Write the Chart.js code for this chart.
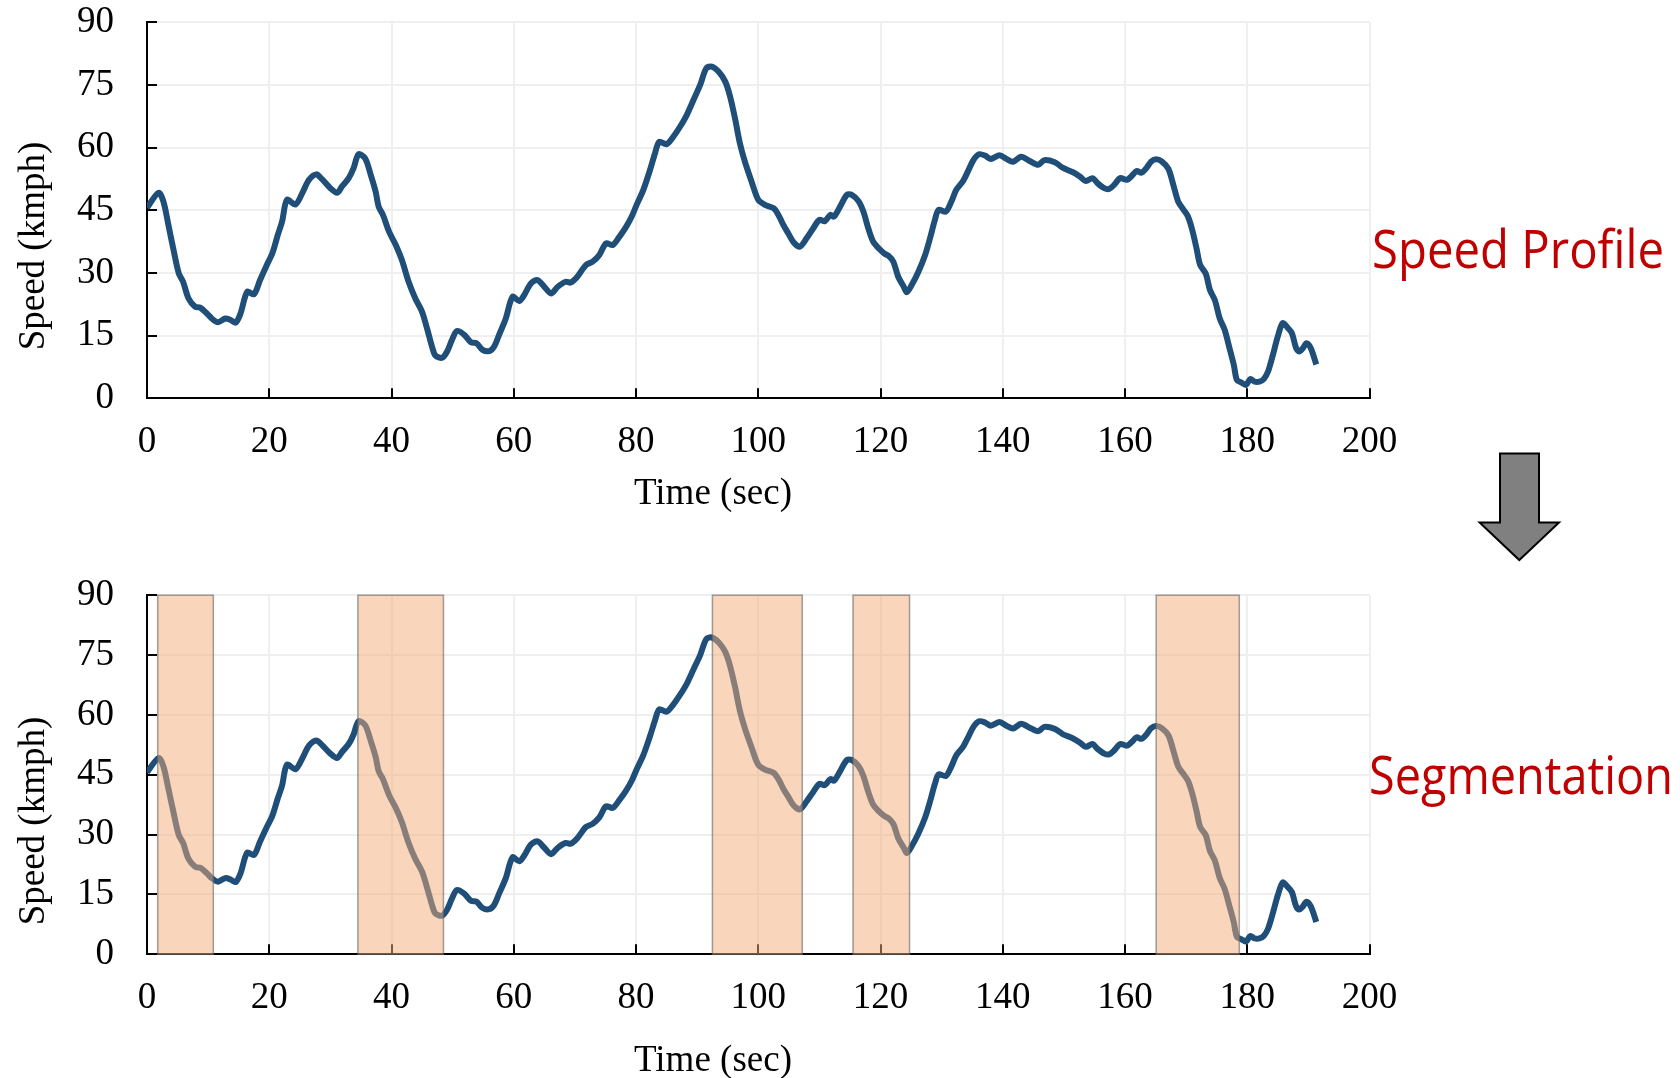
<!DOCTYPE html>
<html>
<head>
<meta charset="utf-8">
<title>Speed profile segmentation</title>
<script src="https://cdn.jsdelivr.net/npm/chart.js@4.4.1/dist/chart.umd.min.js"></script>
<style>
  html, body { margin: 0; padding: 0; background: #fff; overflow: hidden; }
  #page { position: relative; width: 1680px; height: 1078px; overflow: hidden; }
  canvas { position: absolute; left: 0; }
  #topChart { top: -40px; }
  #bottomChart { top: 540px; }
  svg { position: absolute; left: 0; top: 0; pointer-events: none; }
</style>
</head>
<body>
<div id="page">
  <canvas id="topChart" width="1420" height="580"></canvas>
  <canvas id="bottomChart" width="1420" height="538"></canvas>
  <svg width="1680" height="1078">
    <text x="1372" y="268" font-family="Open Sans" font-size="53" fill="#C00000" textLength="292" lengthAdjust="spacingAndGlyphs">Speed Profile</text>
    <text x="1369" y="793.5" font-family="Open Sans" font-size="53" fill="#C00000" textLength="304" lengthAdjust="spacingAndGlyphs">Segmentation</text>
    <polygon points="1500,453.5 1539,453.5 1539,522.5 1559,522.5 1519.3,560 1479.6,522.5 1500,522.5" fill="#808080" stroke="#000" stroke-width="2"/>
  </svg>
</div>
<script>
// time (s) and speed (km/h)
const timeSec = [
  0.0, 1.9, 2.7, 3.5, 4.4, 5.2, 5.9, 6.8, 7.9, 8.7, 9.8, 10.6, 11.6, 12.8, 13.6, 14.5, 15.3, 16.4, 17.5, 18.5,
  19.6, 20.5, 21.4, 22.1, 22.9, 24.3, 25.4, 26.5, 27.7, 28.6, 30.0, 31.1, 31.9, 33.0, 33.8, 34.6, 35.7, 36.6, 37.4, 37.9,
  38.6, 39.6, 40.7, 41.7, 42.8, 43.9, 45.0, 45.8, 46.7, 47.2, 48.3, 49.1, 49.9, 50.7, 51.9, 53.0, 53.9, 54.9, 56.0, 56.8,
  57.6, 58.7, 59.8, 60.9, 61.7, 62.8, 63.9, 65.0, 66.1, 67.2, 68.5, 69.3, 70.4, 71.8, 72.9, 74.0, 75.1, 76.2, 77.3, 78.4,
  79.3, 80.1, 81.2, 82.3, 83.1, 83.8, 85.0, 86.1, 87.2, 88.3, 89.4, 90.5, 91.5, 92.4, 93.5, 94.6, 95.4, 96.2, 97.0, 97.8,
  98.9, 100.0, 101.1, 102.5, 103.3, 104.1, 104.9, 105.8, 106.8, 107.9, 109.0, 110.0, 110.9, 111.8, 112.4, 113.4, 114.5, 115.3, 116.4, 117.2,
  118.0, 118.8, 119.7, 120.6, 121.3, 122.1, 122.9, 123.8, 124.3, 125.1, 126.2, 127.3, 128.1, 128.9, 129.5, 130.7, 131.6, 132.4, 133.5, 134.3,
  135.2, 136.1, 137.1, 138.0, 139.5, 140.6, 141.7, 143.0, 144.4, 145.8, 146.8, 148.5, 149.8, 151.5, 152.6, 153.6, 154.7, 155.5, 156.6, 157.4,
  158.3, 159.2, 160.3, 161.1, 161.9, 162.7, 163.5, 164.3, 165.1, 166.0, 167.1, 167.9, 168.7, 169.5, 170.3, 171.0, 171.7, 172.3, 173.2, 173.9,
  174.7, 175.5, 176.3, 177.1, 177.8, 178.3, 179.0, 179.8, 180.5, 181.2, 182.0, 182.7, 183.4, 184.2, 185.0, 185.8, 186.6, 187.3, 188.0, 188.5,
  189.1, 189.7, 190.4, 191.3
];
const speedKmph = [
  45.6, 49.2, 47.0, 41.5, 35.1, 29.9, 27.9, 23.9, 21.9, 21.7, 20.3, 19.1, 18.2, 19.1, 18.8, 18.1, 20.3, 25.5, 24.9, 28.3,
  31.9, 34.7, 39.1, 42.3, 47.5, 46.4, 49.1, 52.3, 53.6, 52.5, 50.3, 49.2, 50.7, 52.7, 55.1, 58.4, 57.4, 53.5, 49.5, 45.9,
  43.9, 39.9, 36.7, 33.1, 27.9, 23.9, 20.7, 16.8, 12.0, 10.2, 9.7, 11.2, 14.0, 16.1, 15.2, 13.4, 13.2, 11.6, 11.3, 12.4,
  15.2, 19.1, 24.3, 23.3, 24.7, 27.5, 28.3, 26.7, 25.1, 26.7, 27.9, 27.7, 29.1, 31.9, 32.7, 34.3, 37.1, 36.7, 38.7, 41.1,
  43.5, 46.3, 49.9, 54.7, 58.6, 61.4, 60.8, 62.6, 65.0, 67.8, 71.4, 75.0, 79.0, 79.4, 78.2, 75.8, 72.2, 67.0, 61.0, 56.7,
  51.9, 47.5, 46.3, 45.5, 43.9, 41.5, 39.5, 37.3, 36.3, 38.3, 40.7, 42.7, 42.4, 43.9, 43.5, 45.9, 48.7, 48.7, 47.2, 44.7,
  40.7, 37.5, 35.9, 34.7, 34.1, 32.7, 29.1, 26.7, 25.4, 27.1, 30.3, 34.3, 38.3, 42.7, 45.1, 44.7, 47.1, 49.9, 52.0, 54.3,
  57.0, 58.4, 58.1, 57.3, 58.2, 57.3, 56.6, 57.8, 56.8, 55.9, 57.0, 56.5, 55.2, 54.1, 53.1, 52.0, 52.7, 51.5, 50.3, 50.1,
  51.2, 52.7, 52.3, 53.2, 54.4, 54.0, 55.1, 56.7, 57.2, 56.7, 54.9, 51.1, 47.1, 45.3, 43.5, 40.3, 35.9, 31.9, 29.9, 25.9,
  23.5, 19.1, 16.4, 12.0, 8.0, 4.4, 3.8, 3.2, 4.6, 4.0, 4.0, 4.6, 6.4, 10.4, 14.8, 18.0, 16.9, 15.6, 12.0, 11.2,
  12.0, 13.2, 12.0, 8.1
];

// deceleration segments (start / end time, s)
const segStart = [1.75, 34.5, 92.5, 115.5, 165.1];
const segEnd = [10.85, 48.5, 107.2, 124.75, 178.7];

const xTicks = [0, 20, 40, 60, 80, 100, 120, 140, 160, 180, 200];
const yTicks = [0, 15, 30, 45, 60, 75, 90];

const serif = 'Liberation Serif';

// inside tick marks, shaded segments and axis titles
const framePlugin = {
    id: 'frame',
    afterDatasetsDraw(chart, args, opts) {
        const ctx = chart.ctx;
        const a = chart.chartArea;
        const x = chart.scales.x, y = chart.scales.y;
        ctx.save();
        ctx.strokeStyle = '#000';
        ctx.lineWidth = 2;
        ctx.beginPath();
        xTicks.forEach(v => {
            const px = Math.round(x.getPixelForValue(v));
            ctx.moveTo(px, a.bottom);
            ctx.lineTo(px, a.bottom - 10);
        });
        yTicks.forEach(v => {
            const py = Math.round(y.getPixelForValue(v));
            ctx.moveTo(a.left, py);
            ctx.lineTo(a.left + 10, py);
        });
        ctx.stroke();

        if (opts.segments) {
            const top = y.getPixelForValue(90), bottom = y.getPixelForValue(0);
            segStart.forEach((s, i) => {
                const x0 = x.getPixelForValue(s), x1 = x.getPixelForValue(segEnd[i]);
                ctx.fillStyle = 'rgba(242, 172, 120, 0.5)';
                ctx.fillRect(x0, top, x1 - x0, bottom - top);
                ctx.strokeStyle = 'rgba(100, 100, 100, 0.6)';
                ctx.lineWidth = 1.5;
                ctx.strokeRect(x0, top, x1 - x0, bottom - top);
            });
        }
        ctx.restore();
    },
    afterDraw(chart, args, opts) {
        const ctx = chart.ctx;
        ctx.save();
        ctx.fillStyle = '#000';
        ctx.font = '37px "' + serif + '"';
        ctx.textAlign = 'center';
        ctx.textBaseline = 'middle';
        ctx.fillText('Time (sec)', opts.xTitle[0], opts.xTitle[1]);
        ctx.translate(opts.yTitle[0], opts.yTitle[1]);
        ctx.rotate(-Math.PI / 2);
        ctx.fillText('Speed (kmph)', 0, 0);
        ctx.restore();
    }
};

function createSpeedChart(id, cfg) {
    const ctx = document.getElementById(id).getContext('2d');
    const h = ctx.canvas.height;
    return new Chart(ctx, {
        type: 'line',
        data: {
            datasets: [{
                label: 'Speed (kmph)',
                data: timeSec.map((t, i) => ({ x: t, y: speedKmph[i] })),
                borderColor: '#1F4E79',
                borderWidth: 6,
                pointRadius: 0,
                tension: 0.3,
                fill: false
            }]
        },
        options: {
            responsive: false,
            animation: false,
            layout: { padding: { left: 0, top: cfg.top, right: 1420 - 1369.5, bottom: 0 } },
            scales: {
                x: {
                    type: 'linear',
                    min: 0,
                    max: 200,
                    afterBuildTicks: s => { s.ticks = xTicks.map(v => ({ value: v })); },
                    afterFit: s => { s.height = h - cfg.bottom; },
                    grid: { color: '#efefef', lineWidth: 2, drawTicks: false },
                    border: { display: true, color: '#000', width: 2 },
                    ticks: {
                        padding: 22,
                        maxRotation: 0,
                        color: '#000',
                        font: { family: serif, size: 37 }
                    }
                },
                y: {
                    min: 0,
                    max: 90,
                    afterBuildTicks: s => { s.ticks = yTicks.map(v => ({ value: v })); },
                    afterFit: s => { s.width = 147; },
                    grid: { color: '#efefef', lineWidth: 2, drawTicks: false },
                    border: { display: true, color: '#000', width: 2 },
                    ticks: {
                        padding: 33,
                        color: '#000',
                        font: { family: serif, size: 37 }
                    }
                }
            },
            plugins: {
                legend: { display: false },
                tooltip: { enabled: false },
                frame: { segments: cfg.segments, xTitle: cfg.xTitle, yTitle: cfg.yTitle }
            }
        },
        plugins: [framePlugin]
    });
}

// top canvas sits 40px above the page edge so its plot can start at y = 22
createSpeedChart('topChart', { top: 62.3, bottom: 438.3, segments: false, xTitle: [713, 534], yTitle: [34, 286] });
createSpeedChart('bottomChart', { top: 52.3, bottom: 414.3, segments: true, xTitle: [713, 521], yTitle: [34, 281] });
</script>
</body>
</html>
